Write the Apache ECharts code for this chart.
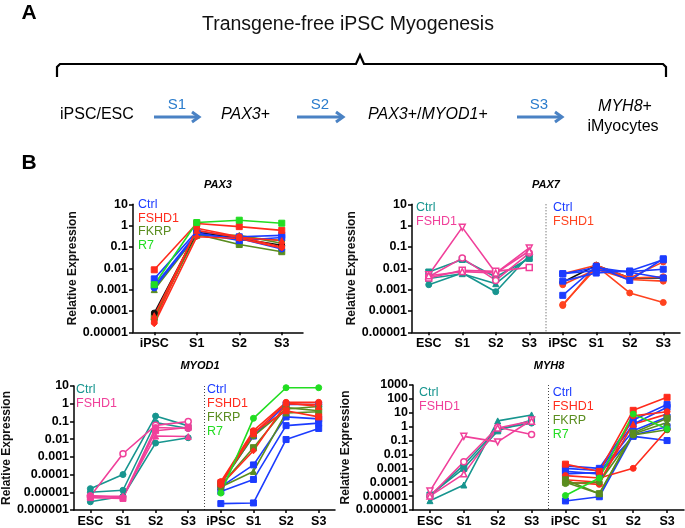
<!DOCTYPE html>
<html><head><meta charset="utf-8">
<script src="https://cdn.jsdelivr.net/npm/echarts@6/dist/echarts.min.js"></script>
<style>html,body{margin:0;padding:0;background:#fff}#c{width:685px;height:528px}</style>
</head><body><div id="c"></div>
<script>
// ---------- categories / tick labels ----------
const catsPAX3 = ['iPSC', 'S1', 'S2', 'S3'];
const cats8 = ['ESC', 'S1', 'S2', 'S3', 'iPSC', 'S1', 'S2', 'S3'];

// ---------- PAX3 (iPSC, S1, S2, S3) ----------
const pax3Ctrl = [
  [0.0032, 0.55, 0.30, 0.35],
  [0.0015, 0.45, 0.20, 0.28],
  [0.0012, 0.40, 0.25, 0.08]];
const pax3FSHD1 = [
  [0.0085, 1.25, 0.90, 0.60],
  [0.00003, 0.75, 0.30, 0.10],
  [0.000025, 0.30, 0.25, 0.09],
  [0.00006, 0.60, 0.28, 0.20]];
const pax3FKRP = [
  [0.0010, 0.35, 0.35, 0.15],
  [0.00005, 0.40, 0.13, 0.06],
  [0.00004, 0.45, 0.30, 0.20]];
const pax3R7 = [[0.0017, 1.40, 1.80, 1.30]];
const pax3Black = [[0.00008, 0.50, 0.25, 0.12]];

// ---------- PAX7 left (ESC..S3) / right (iPSC..S3) ----------
const pax7CtrlA = [
  [0.0067, 0.026, 0.0039, 0.029],
  [0.0017, 0.006, 0.0008, 0.040],
  [0.0033, 0.0056, 0.0019, 0.034]];
const pax7FSHD1A = [
  [0.0050, 0.83, 0.0060, 0.090],
  [0.0040, 0.030, 0.0027, 0.052],
  [0.0035, 0.008, 0.0072, 0.011],
  [0.0045, 0.007, 0.0060, 0.065]];
const pax7CtrlB = [
  [0.0056, 0.0080, 0.0070, 0.0090],
  [0.00054, 0.0125, 0.0027, 0.028],
  [0.0025, 0.0060, 0.0075, 0.025],
  [0.0055, 0.0110, 0.0065, 0.0035]];
const pax7FSHD1B = [
  [0.00018, 0.013, 0.0007, 0.00025],
  [0.00020, 0.010, 0.0035, 0.0040],
  [0.0017, 0.009, 0.0030, 0.0025],
  [0.0055, 0.014, 0.0035, 0.020]];
const pax7BlackB = [[0.0022, 0.014, 0.0035, 0.0035]];

// ---------- MYOD1 ----------
const myodCtrlA = [
  [1.6e-5, 1.0e-4, 0.20, 0.056],
  [1.0e-5, 1.3e-5, 0.087, 0.040],
  [2.9e-6, 6e-6, 0.006, 0.012]];
const myodFSHD1A = [
  [6e-6, 0.0015, 0.060, 0.10],
  [5e-6, 4.5e-6, 0.030, 0.045],
  [6e-6, 6e-6, 0.015, 0.014],
  [6.5e-6, 5e-6, 0.045, 0.040]];
const myodCtrlB = [
  [2.3e-6, 2.5e-6, 0.0095, 0.040],
  [1.1e-5, 5.3e-5, 0.058, 0.080],
  [2.0e-5, 3.5e-4, 0.18, 0.14],
  [3.0e-5, 0.015, 0.90, 0.90]];
const myodFSHD1B = [
  [4.0e-5, 0.030, 1.2, 1.2],
  [3.5e-5, 0.025, 0.40, 0.18],
  [2.5e-5, 0.0022, 1.0, 0.90],
  [3.0e-5, 0.020, 1.1, 0.70]];
const myodFKRPB = [
  [2.5e-5, 0.0033, 0.60, 0.40],
  [2.0e-5, 1.5e-4, 0.30, 0.35],
  [3.0e-5, 0.015, 0.50, 0.70]];
const myodR7B = [[9e-6, 0.15, 8.0, 8.0]];

// ---------- MYH8 ----------
const myhCtrlA = [
  [4.7e-6, 6.3e-5, 2.6, 7.0],
  [1.0e-5, 0.0018, 0.68, 1.8],
  [1.2e-5, 0.0010, 0.50, 3.0]];
const myhFSHD1A = [
  [2.3e-5, 0.20, 0.08, 3.0],
  [1.0e-5, 0.0030, 0.90, 0.27],
  [1.0e-5, 0.0004, 0.80, 2.5]];
const myhCtrlB = [
  [4.5e-6, 9e-6, 0.25, 1.0],
  [0.0015, 0.0010, 3.0, 40],
  [0.0010, 0.0007, 1.5, 25],
  [0.0006, 0.0004, 0.20, 0.10],
  [0.0004, 0.0005, 0.50, 5.0]];
const myhFSHD1B = [
  [0.0020, 0.0006, 15, 130],
  [0.0003, 0.0002, 0.001, 0.6],
  [0.00015, 0.0001, 1.5, 8],
  [0.0001, 0.00007, 6, 12]];
const myhFKRPB = [
  [0.00015, 1.5e-5, 0.35, 4],
  [0.0001, 1.5e-5, 0.30, 2],
  [0.00008, 0.0001, 0.25, 0.6]];
const myhR7B = [[1.1e-5, 0.0002, 8, 0.7]];

// ---------- styling ----------
const FONT = "'Liberation Sans', Arial, sans-serif";
const C = { ctrl: '#1c3cff', fshd: '#ff2b1c', fkrp: '#5a8d1f', r7: '#22dd22', teal: '#17958f', pink: '#f0409a', orange: '#ff431f', black: '#111111' };

const chart = echarts.init(document.getElementById('c'));

function fmtLog(v) {
  const e = Math.round(Math.log10(v));
  if (e >= 0) return String(Math.pow(10, e));
  return '0.' + '0'.repeat(-e - 1) + '1';
}

const grids = [
  { left: 133, top: 204.3, width: 170, height: 128 },   // PAX3
  { left: 412, top: 204.3, width: 268, height: 128 },   // PAX7
  { left: 64, top: 386, width: 271, height: 126.7 },    // MYOD1
  { left: 413, top: 385, width: 271, height: 127.7 }    // MYH8
];
const yRange = [[1e-5, 10], [1e-5, 10], [1e-6, 10], [1e-6, 1000]];
const yGap = [53, 51, 53, 52];
const xCats = [catsPAX3, cats8, cats8, cats8];

const xAxes = xCats.map((cats, gi) => ({
  type: 'category', gridIndex: gi, boundaryGap: true,
  data: cats.map((c, i) => String(i)),
  axisLine: { onZero: false, lineStyle: { color: '#000', width: 1.5 } },
  axisTick: { show: true, alignWithLabel: true, length: 3, lineStyle: { color: '#000', width: 1.5 } },
  axisLabel: { formatter: (v, i) => cats[i], fontFamily: FONT, fontWeight: 'bold', fontSize: 12.5, color: '#000', margin: 5, interval: 0 },
  splitLine: { show: false }
}));
const yAxes = yRange.map((r, gi) => ({
  type: 'log', logBase: 10, gridIndex: gi, min: r[0], max: r[1],
  name: 'Relative Expression', nameLocation: 'middle', nameGap: yGap[gi], nameRotate: 90,
  nameTextStyle: { fontFamily: FONT, fontWeight: 'bold', fontSize: 12, color: '#111' },
  axisLine: { show: true, lineStyle: { color: '#000', width: 1.5 } },
  axisTick: { show: true, length: 4, lineStyle: { color: '#000', width: 1.5 } },
  minorTick: { show: false }, splitLine: { show: false },
  axisLabel: { formatter: fmtLog, fontFamily: FONT, fontWeight: 'bold', fontSize: 12.5, color: '#000', margin: 5 }
}));

const series = [];
function add(gi, rows, color, syms, offset, hollow) {
  rows.forEach((vals, k) => {
    const sym = Array.isArray(syms) ? syms[k % syms.length] : syms;
    const hol = Array.isArray(hollow) ? hollow[k % hollow.length] : !!hollow;
    series.push({
      type: 'line', xAxisIndex: gi, yAxisIndex: gi,
      data: new Array(offset).fill(null).concat(vals),
      symbol: sym, symbolSize: 6, showSymbol: true, connectNulls: false,
      lineStyle: { color: color, width: 1.6 },
      itemStyle: hol ? { color: '#fff', borderColor: color, borderWidth: 1.5 } : { color: color, borderColor: color },
      emphasis: { disabled: true }, silent: true
    });
  });
}
// PAX3
add(0, pax3FKRP, C.fkrp, ['triangle', 'rect', 'circle'], 0);
add(0, pax3Black, C.black, 'circle', 0);
add(0, pax3Ctrl, C.ctrl, ['rect', 'rect', 'circle'], 0);
add(0, pax3FSHD1, C.fshd, ['rect', 'circle', 'diamond', 'triangle'], 0);
add(0, pax3R7, C.r7, 'rect', 0);
// PAX7
add(1, pax7CtrlA, C.teal, ['rect', 'circle', 'triangle'], 0);
add(1, pax7FSHD1A, C.pink, ['path://M0,0L10,0L5,9Z', 'circle', 'rect', 'triangle'], 0, true);
add(1, pax7BlackB, C.black, 'circle', 4);
add(1, pax7FSHD1B, C.orange, 'circle', 4);
add(1, pax7CtrlB, C.ctrl, 'rect', 4);
// MYOD1
add(2, myodCtrlA, C.teal, 'circle', 0);
add(2, myodFSHD1A, C.pink, ['circle', 'rect', 'triangle', 'circle'], 0, [true, false, false, false]);
add(2, myodCtrlB, C.ctrl, 'rect', 4);
add(2, myodFKRPB, C.fkrp, ['rect', 'triangle', 'circle'], 4);
add(2, myodFSHD1B, C.fshd, ['circle', 'rect', 'diamond', 'triangle'], 4);
add(2, myodR7B, C.r7, 'circle', 4);
// MYH8
add(3, myhCtrlA, C.teal, ['triangle', 'circle', 'rect'], 0);
add(3, myhFSHD1A, C.pink, ['path://M0,0L10,0L5,9Z', 'circle', 'triangle'], 0, true);
add(3, myhCtrlB, C.ctrl, 'rect', 4);
add(3, myhFSHD1B, C.fshd, ['rect', 'circle', 'triangle', 'circle'], 4);
add(3, myhFKRPB, C.fkrp, ['rect', 'triangle', 'circle'], 4);
add(3, myhR7B, C.r7, 'circle', 4);

// ---------- graphic: panel A + labels ----------
function txt(x, y, text, font, fill, align, rich) {
  return { type: 'text', x: x, y: y, silent: true,
    style: { text: text, font: font, fill: fill || '#000', align: align || 'center', verticalAlign: 'middle',
      textAlign: align || 'center', textVerticalAlign: 'middle', rich: rich } };
}
const ITAL = { i: { fontStyle: 'italic', fontSize: 16, fontFamily: FONT, fill: '#000' } };
const rowFont = '16px ' + FONT;
const sFont = '15px ' + FONT;
const AR = '#4a82c4', SL = '#2a7ccc';
function arrow(x1, x2, y) {
  return [
    { type: 'line', silent: true, shape: { x1: x1, y1: y, x2: x2 - 2, y2: y }, style: { stroke: AR, lineWidth: 3 } },
    { type: 'polyline', silent: true, shape: { points: [[x2 - 7, y - 5], [x2, y], [x2 - 7, y + 5]] }, style: { stroke: AR, lineWidth: 3, fill: null, lineJoin: 'miter' } }
  ];
}
const legFont = '12.5px ' + FONT;
const titleFont = 'italic bold 11px ' + FONT;
const graphics = [
  txt(29, 13, 'A', 'bold 21px ' + FONT),
  txt(202, 25, 'Transgene-free iPSC Myogenesis', '19.5px ' + FONT, '#111', 'left'),
  { type: 'polyline', silent: true,
    shape: { points: [[57, 77], [57, 67], [60, 64], [356, 64], [360, 55], [364, 64], [663, 64], [666, 67], [666, 77]] },
    style: { stroke: '#000', lineWidth: 2.2, fill: null } },
  txt(60, 115, 'iPSC/ESC', rowFont, '#000', 'left'),
  ...arrow(154, 199, 117), txt(177, 105, 'S1', sFont, SL),
  txt(221, 115, '{i|PAX3}+', rowFont, '#000', 'left', ITAL),
  ...arrow(297, 343, 117), txt(320, 105, 'S2', sFont, SL),
  txt(368, 115, '{i|PAX3}+/{i|MYOD1}+', rowFont, '#000', 'left', ITAL),
  ...arrow(517, 562, 117), txt(539, 105, 'S3', sFont, SL),
  txt(625, 107, '{i|MYH8}+', rowFont, '#000', 'center', ITAL),
  txt(623, 127, 'iMyocytes', rowFont, '#000', 'center'),
  txt(29, 163, 'B', 'bold 21px ' + FONT),
  // panel titles
  txt(218, 185, 'PAX3', titleFont), txt(546, 185, 'PAX7', titleFont),
  txt(200, 366, 'MYOD1', titleFont), txt(549, 366, 'MYH8', titleFont),
  // legends PAX3
  txt(138, 205, 'Ctrl', legFont, C.ctrl, 'left'), txt(138, 218.5, 'FSHD1', legFont, C.fshd, 'left'),
  txt(138, 232, 'FKRP', legFont, C.fkrp, 'left'), txt(138, 245.5, 'R7', legFont, C.r7, 'left'),
  // PAX7
  txt(416, 208, 'Ctrl', legFont, C.teal, 'left'), txt(416, 221.7, 'FSHD1', legFont, C.pink, 'left'),
  txt(553, 208, 'Ctrl', legFont, C.ctrl, 'left'), txt(553, 221.7, 'FSHD1', legFont, C.orange, 'left'),
  // MYOD1
  txt(76, 390, 'Ctrl', legFont, C.teal, 'left'), txt(76, 404, 'FSHD1', legFont, C.pink, 'left'),
  txt(207, 390, 'Ctrl', legFont, C.ctrl, 'left'), txt(207, 404, 'FSHD1', legFont, C.fshd, 'left'),
  txt(207, 418, 'FKRP', legFont, C.fkrp, 'left'), txt(207, 431.7, 'R7', legFont, C.r7, 'left'),
  // MYH8
  txt(419, 392.3, 'Ctrl', legFont, C.teal, 'left'), txt(419, 406.7, 'FSHD1', legFont, C.pink, 'left'),
  txt(552.7, 392.3, 'Ctrl', legFont, C.ctrl, 'left'), txt(552.7, 406.7, 'FSHD1', legFont, C.fshd, 'left'),
  txt(552.7, 420.7, 'FKRP', legFont, C.fkrp, 'left'), txt(552.7, 434.3, 'R7', legFont, C.r7, 'left')
];

const option = {
  animation: false,
  backgroundColor: '#fff',
  grid: grids.map(g => Object.assign({ containLabel: false }, g)),
  xAxis: xAxes, yAxis: yAxes, series: series,
  graphic: { elements: graphics }
};
chart.setOption(option);

// dotted dividers between left and right groups (computed through axes)
[1, 2, 3].forEach(gi => {
  const p3 = chart.convertToPixel({ xAxisIndex: gi }, 3);
  const p4 = chart.convertToPixel({ xAxisIndex: gi }, 4);
  const yTop = chart.convertToPixel({ yAxisIndex: gi }, yRange[gi][1]);
  const yBot = chart.convertToPixel({ yAxisIndex: gi }, yRange[gi][0]);
  const x = (p3 + p4) / 2;
  graphics.push({ type: 'line', silent: true, shape: { x1: x, y1: yTop, x2: x, y2: yBot },
    style: { stroke: '#444', lineWidth: 1, lineDash: [1, 2] } });
});
chart.setOption({ graphic: { elements: graphics } });
</script></body></html>
